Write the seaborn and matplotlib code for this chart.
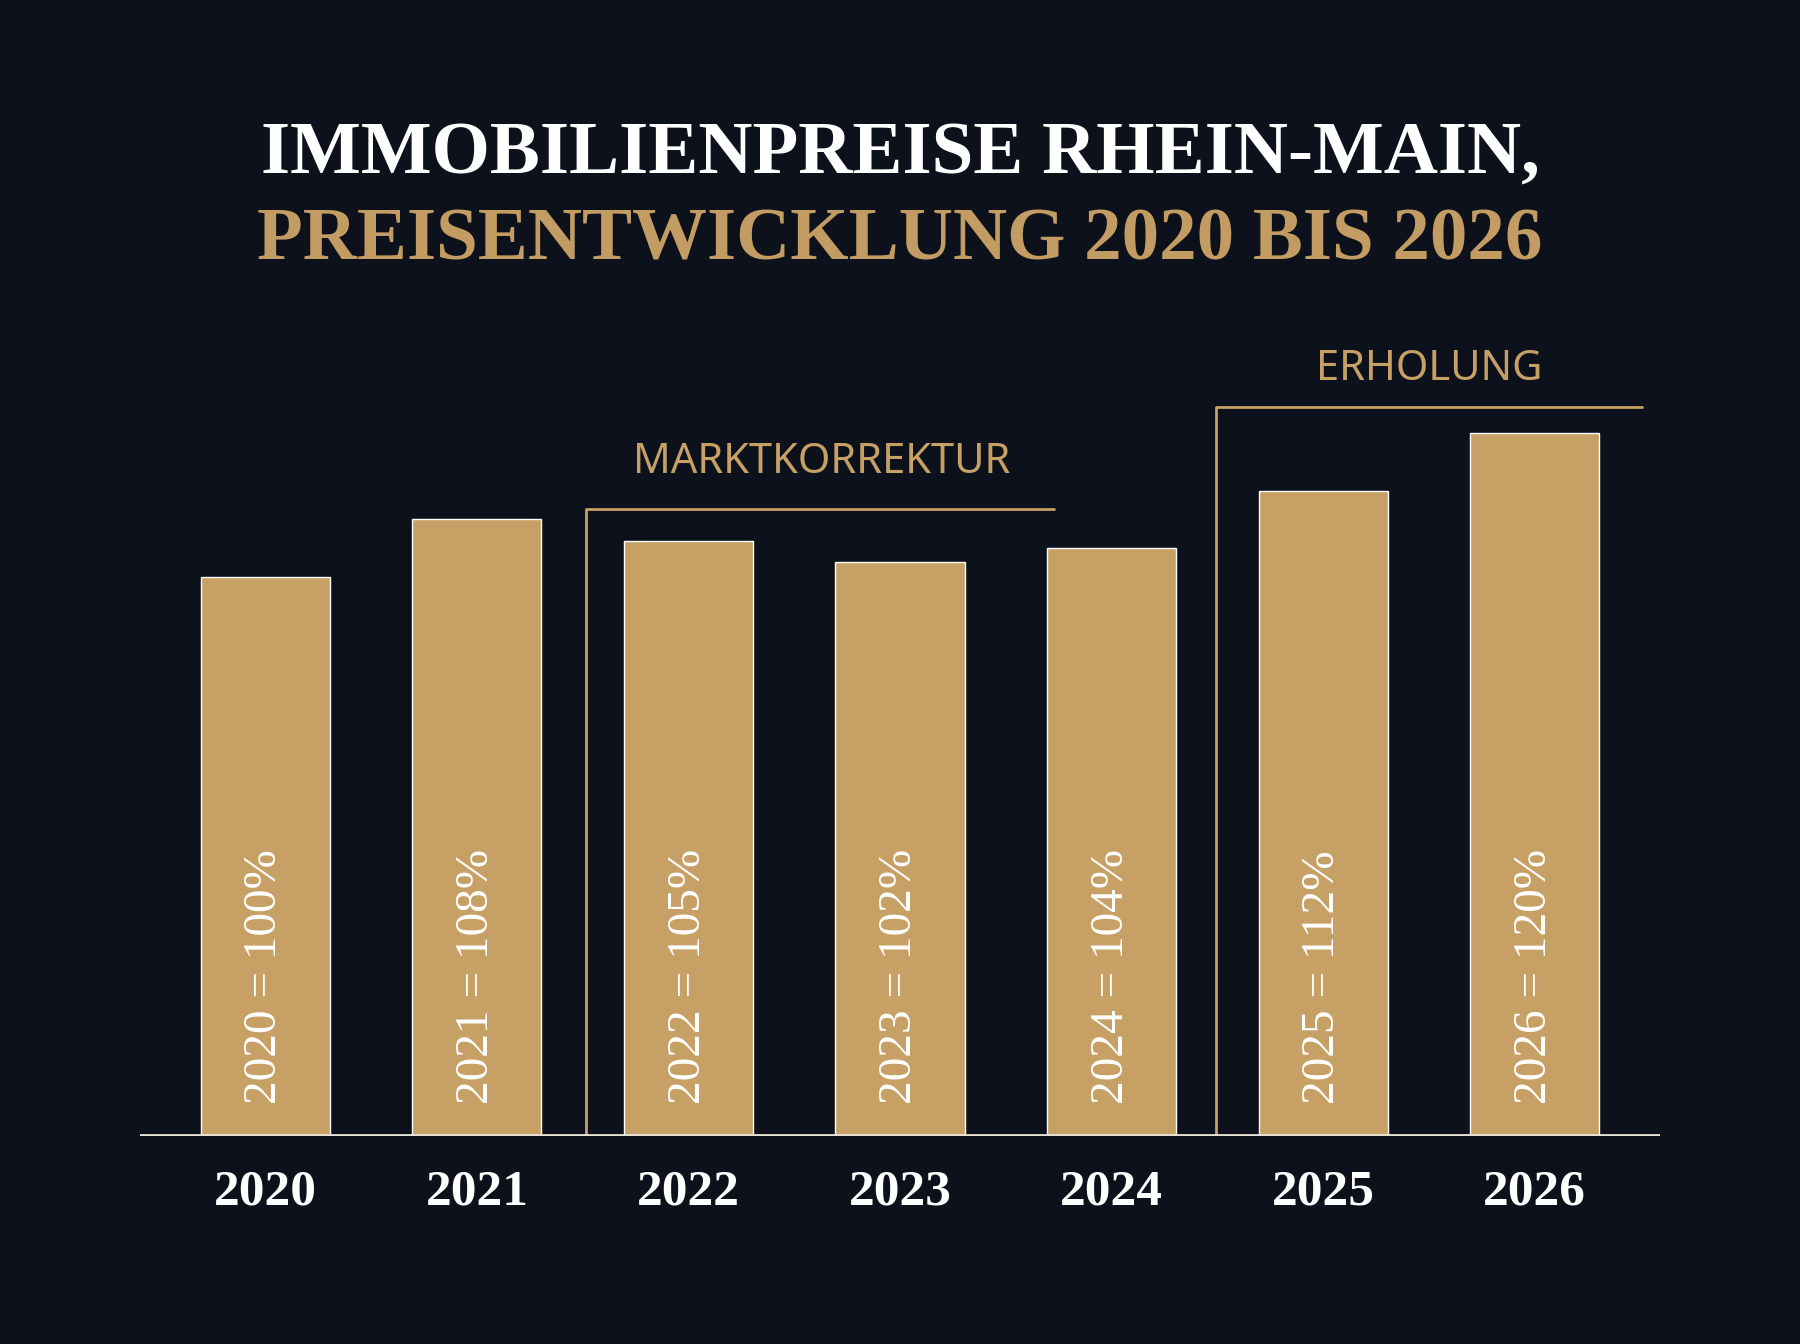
import matplotlib
matplotlib.use("Agg")
import matplotlib.pyplot as plt
import seaborn as sns
import pandas as pd

# data
years = ["2020", "2021", "2022", "2023", "2024", "2025", "2026"]
index_values = [100, 108, 105, 102, 104, 112, 120]
bar_labels = [f"{y} = {v}%" for y, v in zip(years, index_values)]

bg = "#0d111c"
gold = "#c6a064"
title_gold = "#c29c62"

sns.set_theme(style="dark")
plt.rcParams["font.family"] = ["Liberation Serif", "DejaVu Serif"]

df = pd.DataFrame({"year": years, "value": index_values})

fig = plt.figure(figsize=(18, 13.44), dpi=100, facecolor=bg)
ax = fig.add_axes([0.078, 0.1546, 0.844, 0.8454])
ax.set_facecolor(bg)

sns.barplot(data=df, x="year", y="value", color=gold, saturation=1, width=0.61, ax=ax)
ax.set_xlim(-0.59, 6.59)
ax.set_ylim(22, 180.4)

for s in ax.spines.values():
    s.set_visible(False)
ax.axhline(22.15, color="#e8e2d6", lw=2, zorder=3)
ax.set_yticks([])
ax.set_xlabel("")
ax.set_ylabel("")
ax.tick_params(axis="x", length=0, pad=24, labelsize=37, labelcolor="white")
for t in ax.get_xticklabels():
    t.set_fontweight("bold")

for i, lab in enumerate(bar_labels):
    ax.text(i, 26.5, lab, rotation=90, ha="center", va="bottom",
            color="white", fontsize=34)

# bracket annotations
ax.plot([1.516, 1.516, 3.73], [22, 109.5, 109.5], color=gold, lw=2, zorder=1)
ax.text(2.63, 116, "MARKTKORREKTUR", ha="center", va="center",
        color=gold, fontsize=30, family=["Noto Sans", "DejaVu Sans"])
ax.plot([4.495, 4.495, 6.505], [22, 123.6, 123.6], color=gold, lw=2, zorder=1)
ax.text(5.5, 128.9, "ERHOLUNG", ha="center", va="center",
        color=gold, fontsize=30, family=["Noto Sans", "DejaVu Sans"])

fig.text(0.5, 0.885, "IMMOBILIENPREISE RHEIN-MAIN,", ha="center", va="center",
         color="white", fontsize=54, fontweight="bold")
fig.text(0.5, 0.82, "PREISENTWICKLUNG 2020 BIS 2026", ha="center", va="center",
         color=title_gold, fontsize=54, fontweight="bold")

fig.savefig("out.png", dpi=100, facecolor=bg)
